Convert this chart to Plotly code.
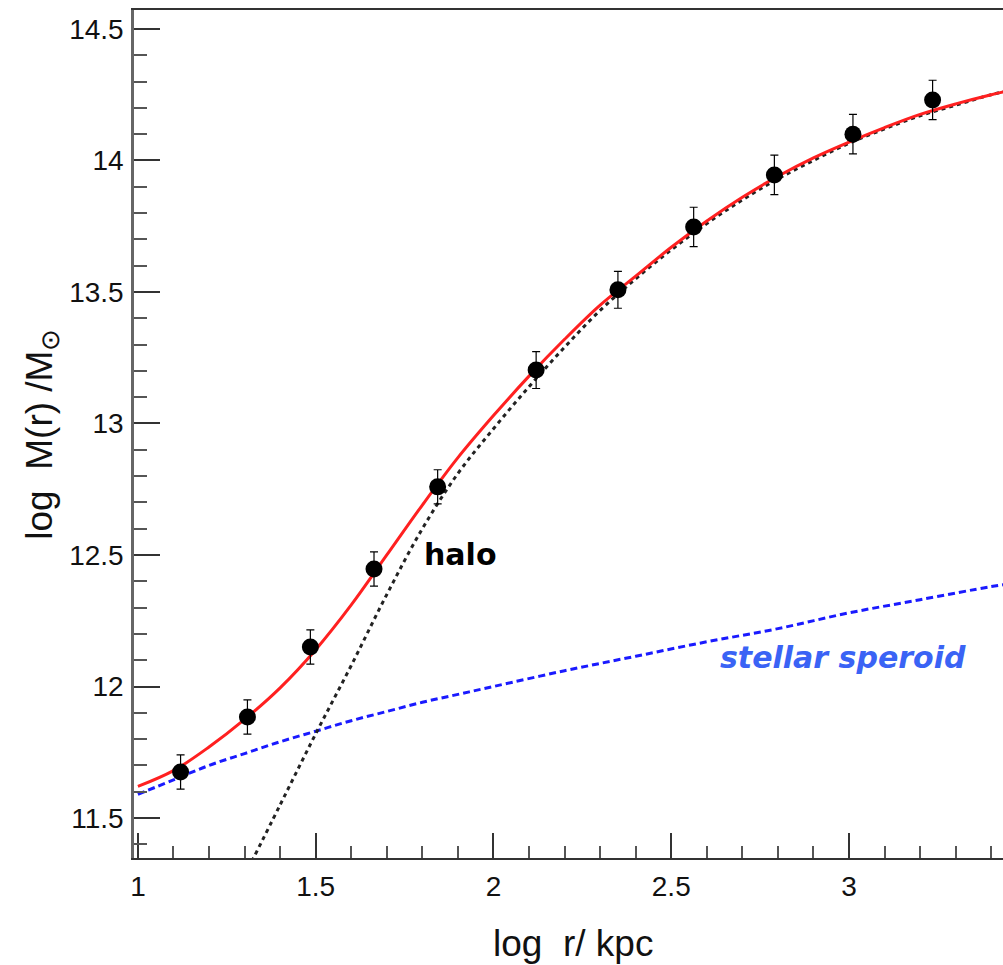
import plotly.graph_objects as go

# measured data points
pts_x = [1.12, 1.308, 1.485, 1.664, 1.843, 2.12, 2.35, 2.563, 2.79, 3.011, 3.235]
pts_y = [11.675, 11.884, 12.15, 12.447, 12.759, 13.203, 13.508, 13.747, 13.945, 14.10, 14.23]
pts_err = [0.065, 0.065, 0.065, 0.065, 0.065, 0.07, 0.07, 0.075, 0.075, 0.075, 0.075]

# total fit (red)
tot_x = [1.0, 1.1, 1.2, 1.3, 1.4, 1.5, 1.6, 1.7, 1.8, 1.9, 2.0, 2.1, 2.2, 2.3, 2.4, 2.5,
         2.6, 2.7, 2.8, 2.9, 3.0, 3.1, 3.2, 3.3, 3.4, 3.45]
tot_y = [11.62, 11.68, 11.77, 11.875, 11.995, 12.14, 12.31, 12.50, 12.69, 12.87, 13.03,
         13.18, 13.32, 13.45, 13.56, 13.67, 13.77, 13.86, 13.94, 14.01, 14.07, 14.125,
         14.175, 14.215, 14.25, 14.265]

# halo (black dashed)
halo_x = [1.3, 1.4, 1.5, 1.6, 1.7, 1.8, 1.9, 2.0, 2.1, 2.2, 2.3, 2.4, 2.5, 2.6, 2.7,
          2.8, 2.9, 3.0, 3.1, 3.2, 3.3, 3.4, 3.45]
halo_y = [11.28, 11.55, 11.82, 12.08, 12.35, 12.60, 12.81, 12.98, 13.14, 13.29, 13.43,
          13.55, 13.66, 13.76, 13.85, 13.93, 14.00, 14.065, 14.12, 14.17, 14.21, 14.25, 14.265]

# stellar spheroid (blue dashed)
star_x = [1.0, 1.1, 1.2, 1.3, 1.4, 1.5, 1.6, 1.7, 1.8, 1.9, 2.0, 2.2, 2.4, 2.6, 2.8,
          3.0, 3.2, 3.4, 3.45]
star_y = [11.59, 11.645, 11.70, 11.745, 11.79, 11.83, 11.87, 11.905, 11.94, 11.97, 12.00,
          12.06, 12.115, 12.17, 12.22, 12.28, 12.33, 12.38, 12.39]

x_ticks = [1, 1.5, 2, 2.5, 3]
x_labels = ["1", "1.5", "2", "2.5", "3"]
y_ticks = [11.5, 12, 12.5, 13, 13.5, 14, 14.5]
y_labels = ["11.5", "12", "12.5", "13", "13.5", "14", "14.5"]

fig = go.Figure()
fig.add_trace(go.Scatter(x=star_x, y=star_y, mode="lines", line_shape="spline",
                         line=dict(color="#1a1aff", width=3, dash="7px,4px"), showlegend=False))
fig.add_trace(go.Scatter(x=halo_x, y=halo_y, mode="lines", line_shape="spline",
                         line=dict(color="#222222", width=3, dash="4px,4px"), showlegend=False))
fig.add_trace(go.Scatter(x=tot_x, y=tot_y, mode="lines", line_shape="spline",
                         line=dict(color="#ff2020", width=3), showlegend=False))
fig.add_trace(go.Scatter(x=pts_x, y=pts_y, mode="markers",
                         marker=dict(color="black", size=17),
                         error_y=dict(type="data", array=pts_err, color="black",
                                      thickness=1.2, width=4),
                         showlegend=False))

fig.add_annotation(x=1.906, y=12.5, xref="x", yref="y", text="<b>halo</b>", showarrow=False,
                   font=dict(family="DejaVu Sans", size=30, color="black"))
fig.add_annotation(x=2.983, y=12.112, xref="x", yref="y", text="<b><i>stellar speroid</i></b>",
                   showarrow=False, font=dict(family="DejaVu Sans", size=30, color="#3a63f5"))

fig.add_annotation(x=0.505, y=-0.127, xref="paper", yref="paper", text="log  r/ kpc",
                   showarrow=False, font=dict(family="Liberation Sans", size=37, color="#111"))
fig.add_annotation(x=-0.135, y=0.5, xref="paper", yref="paper", textangle=-90,
                   text="log  M(r) /M<sub>⊙</sub>",
                   showarrow=False, font=dict(family="Liberation Sans", size=37, color="#111"))

fig.update_layout(
    width=1003, height=965,
    margin=dict(l=134, r=0, t=10, b=107),
    paper_bgcolor="white", plot_bgcolor="white",
    font=dict(family="Liberation Sans", size=28, color="#111"),
    xaxis=dict(range=[0.989, 3.433], tickvals=x_ticks, ticktext=x_labels,
               ticks="inside", ticklen=25, tickwidth=1.5, tickcolor="#333",
               minor=dict(dtick=0.1, ticks="inside", ticklen=12, tickwidth=1.5, tickcolor="#555"),
               showgrid=False, zeroline=False, showline=True, linecolor="#333", linewidth=2,
               mirror=True, ticklabelstandoff=2),
    yaxis=dict(range=[11.348, 14.572], tickvals=y_ticks, ticktext=y_labels,
               ticks="inside", ticklen=26, tickwidth=1.5, tickcolor="#333",
               minor=dict(dtick=0.1, tick0=11.5, ticks="inside", ticklen=13, tickwidth=1.5, tickcolor="#555"),
               showgrid=False, zeroline=False, showline=True, linecolor="#666", linewidth=2.5,
               mirror=False, ticklabelstandoff=2),
)
fig.write_html("out.html")
